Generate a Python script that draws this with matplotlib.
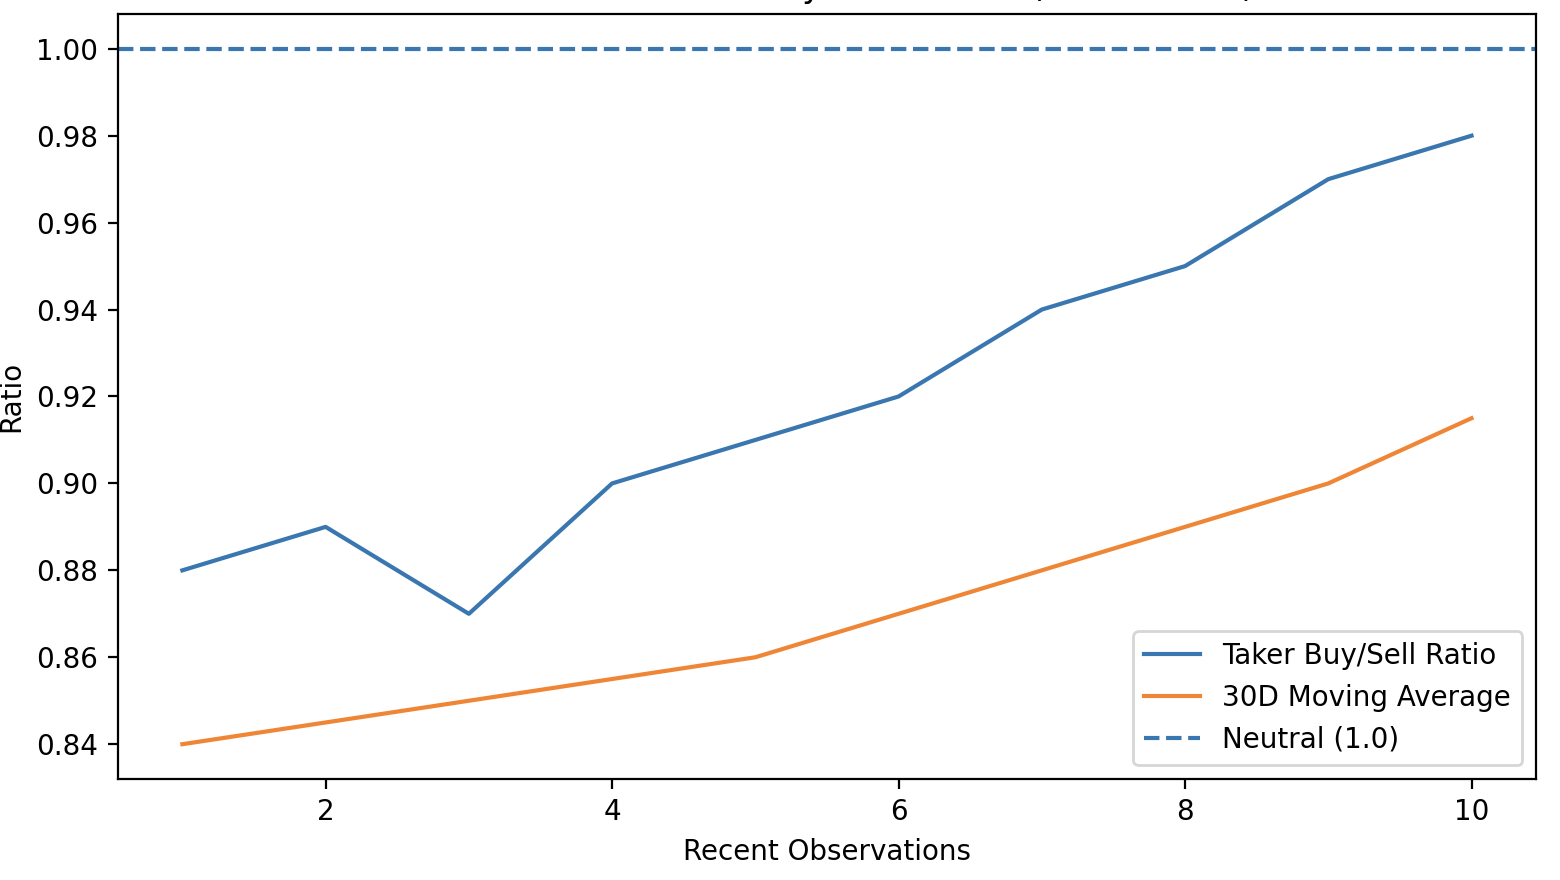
import matplotlib
matplotlib.use("Agg")
import matplotlib.pyplot as plt

obs = [1, 2, 3, 4, 5, 6, 7, 8, 9, 10]
ratio = [0.88, 0.89, 0.87, 0.90, 0.91, 0.92, 0.94, 0.95, 0.97, 0.98]
ma30 = [0.84, 0.845, 0.85, 0.855, 0.86, 0.87, 0.88, 0.89, 0.90, 0.915]
neutral = 1.0

blue = '#3a76af'
orange = '#ef8636'

fig = plt.figure(figsize=(7.8, 4.4), dpi=200)
ax = fig.add_axes([0.0756, 0.1148, 0.909, 0.8693])
ax.plot(obs, ratio, color=blue, lw=1.5, label='Taker Buy/Sell Ratio')
ax.plot(obs, ma30, color=orange, lw=1.5, label='30D Moving Average')
ax.axhline(neutral, color=blue, ls='--', lw=1.5, label='Neutral (1.0)')
ax.set_xlabel('Recent Observations')
ax.set_ylabel('Ratio')
# title sits above the canvas edge, only descenders show (as in reference)
ax.set_title('BTC Market Taker Activity Ratio Trend (Last 10 Obs)', fontsize=12)
ax.legend(loc='lower right')
fig.savefig('out.png', dpi=200)
